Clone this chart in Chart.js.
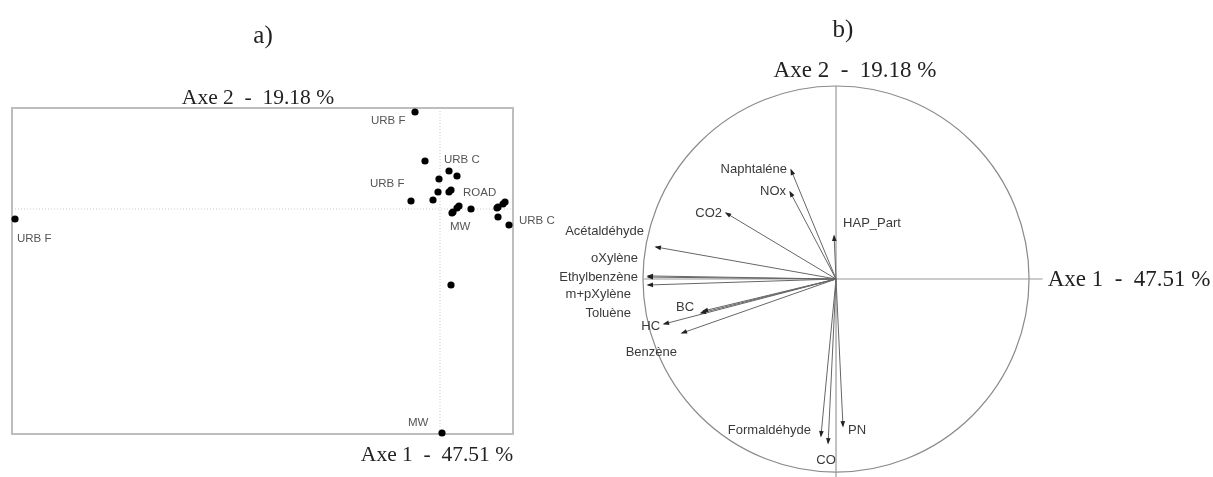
<!DOCTYPE html>
<html>
<head>
<meta charset="utf-8">
<script src="https://cdn.jsdelivr.net/npm/chart.js@4.4.1/dist/chart.umd.min.js"></script>
<style>
  body { margin: 0; background: #fff; width: 1213px; height: 477px; position: relative; overflow: hidden; }
  #wrapA { position: absolute; left: 0; top: 0; width: 560px; height: 477px; }
  #wrapB { position: absolute; left: 560px; top: 0; width: 653px; height: 477px; }
</style>
</head>
<body>
<div id="wrapA"><canvas id="scores"></canvas></div>
<div id="wrapB"><canvas id="circle"></canvas></div>
<script>
// a) individuals on the first factorial plane
const scoreX = [-0.25, -0.15, 0.09, 0.17, -0.01, -0.02, 0.09, 0.11, -0.29, -0.07, 0.19, 0.17, 0.13, 0.12, 0.31, 0.65, 0.63, 0.58, 0.57, 0.58, 0.69, -4.25, 0.11, 0.02];
const scoreY = [0.97, 0.48, 0.38, 0.33, 0.30, 0.17, 0.17, 0.19, 0.08, 0.09, 0.03, 0.01, -0.03, -0.04, 0.00, 0.07, 0.05, 0.02, 0.01, -0.08, -0.16, -0.10, -0.76, -2.24];

const groupNames = ['URB F', 'URB C', 'URB F', 'ROAD', 'MW', 'URB C', 'URB F', 'MW'];
const groupX = [-0.69, 0.04, -0.70, 0.23, 0.10, 0.79, -4.23, -0.32];
const groupY = [0.88, 0.49, 0.25, 0.16, -0.18, -0.12, -0.30, -2.14];

// b) correlation circle
const varNames = ['Naphtaléne', 'NOx', 'CO2', 'HAP_Part', 'Acétaldéhyde', 'oXylène', 'Ethylbenzène', 'm+pXylène', 'Toluène', 'BC', 'HC', 'Benzène', 'Formaldéhyde', 'CO', 'PN'];
const varX = [-0.233, -0.238, -0.570, -0.010, -0.933, -0.974, -0.974, -0.974, -0.689, -0.699, -0.891, -0.798, -0.078, -0.041, 0.036];
const varY = [0.565, 0.451, 0.342, 0.223, 0.166, 0.016, 0.010, -0.031, -0.166, -0.176, -0.233, -0.280, -0.813, -0.850, -0.762];

const axis1 = 'Axe 1  -  47.51 %';
const axis2 = 'Axe 2  -  19.18 %';

// label placement next to arrow tips (pixels): dx, dy, align
const varLabelPlace = [
  [-4, -1, 'right'], [-4, -1, 'right'], [-4, 0, 'right'], [9, -13, 'left'],
  [-12, -16, 'right'], [-10, -18, 'right'], [-10, 0, 'right'], [-17, 9, 'right'],
  [-72, 2, 'right'], [-7, -6, 'right'], [-4, 2, 'right'], [-5, 19, 'right'],
  [-10, -5, 'right'], [-2, 17, 'center'], [5, 4, 'left']
];

const sansFont = '"Liberation Sans", Arial, sans-serif';
const serifFont = '"Liberation Serif", "Times New Roman", serif';

const scoresDeco = {
  id: 'scoresDeco',
  beforeDatasetsDraw(chart) {
    const { ctx, chartArea: a, scales: { x, y } } = chart;
    ctx.save();
    // dotted axes
    ctx.strokeStyle = '#c8c8c8';
    ctx.lineWidth = 1;
    ctx.setLineDash([1, 2]);
    ctx.beginPath();
    ctx.moveTo(x.getPixelForValue(0), a.top);
    ctx.lineTo(x.getPixelForValue(0), a.bottom);
    ctx.moveTo(a.left, y.getPixelForValue(0));
    ctx.lineTo(a.right, y.getPixelForValue(0));
    ctx.stroke();
    ctx.setLineDash([]);
    // frame
    ctx.strokeStyle = '#bdbdbd';
    ctx.lineWidth = 2;
    ctx.strokeRect(a.left, a.top, a.right - a.left, a.bottom - a.top);
    ctx.restore();
  },
  afterDatasetsDraw(chart) {
    const { ctx, chartArea: a, scales: { x, y } } = chart;
    ctx.save();
    ctx.fillStyle = '#555';
    ctx.font = '11.5px ' + sansFont;
    ctx.textAlign = 'left';
    ctx.textBaseline = 'middle';
    groupNames.forEach((n, i) => {
      ctx.fillText(n, x.getPixelForValue(groupX[i]), y.getPixelForValue(groupY[i]));
    });
    ctx.fillStyle = '#222';
    ctx.font = '21.5px ' + serifFont;
    ctx.textAlign = 'center';
    ctx.fillText(axis2, 258, a.top - 10);
    ctx.fillText(axis1, 437, a.bottom + 21);
    ctx.font = '25px ' + serifFont;
    ctx.fillText('a)', 263, 36);
    ctx.restore();
  }
};

new Chart(document.getElementById('scores'), {
  type: 'scatter',
  data: {
    datasets: [{
      data: scoreX.map((v, i) => ({ x: v, y: scoreY[i] })),
      backgroundColor: '#000',
      borderWidth: 0,
      pointRadius: 3.6,
      clip: false
    }]
  },
  options: {
    responsive: true,
    maintainAspectRatio: false,
    animation: false,
    layout: { padding: { left: 12, top: 108, right: 47, bottom: 43 } },
    plugins: { legend: { display: false }, tooltip: { enabled: false } },
    scales: {
      x: { type: 'linear', min: -4.28, max: 0.73, display: false },
      y: { type: 'linear', min: -2.25, max: 1.01, display: false }
    }
  },
  plugins: [scoresDeco]
});

const circleDeco = {
  id: 'circleDeco',
  beforeDatasetsDraw(chart) {
    const { ctx, scales: { x, y } } = chart;
    const cx = x.getPixelForValue(0), cy = y.getPixelForValue(0);
    const r = x.getPixelForValue(1) - cx;
    ctx.save();
    ctx.strokeStyle = '#8a8a8a';
    ctx.lineWidth = 1.2;
    ctx.beginPath();
    ctx.arc(cx, cy, r, 0, Math.PI * 2);
    ctx.stroke();
    ctx.strokeStyle = '#9a9a9a';
    ctx.beginPath();
    ctx.moveTo(x.getPixelForValue(-1), cy);
    ctx.lineTo(x.getPixelForValue(1.07), cy);
    ctx.moveTo(cx, y.getPixelForValue(1));
    ctx.lineTo(cx, y.getPixelForValue(-1.03));
    ctx.stroke();
    ctx.restore();
  },
  afterDatasetsDraw(chart) {
    const { ctx, scales: { x, y } } = chart;
    const cx = x.getPixelForValue(0), cy = y.getPixelForValue(0);
    ctx.save();
    // arrow heads
    ctx.fillStyle = '#222';
    varNames.forEach((n, i) => {
      const tx = x.getPixelForValue(varX[i]), ty = y.getPixelForValue(varY[i]);
      const ang = Math.atan2(ty - cy, tx - cx);
      ctx.save();
      ctx.translate(tx, ty);
      ctx.rotate(ang);
      ctx.beginPath();
      ctx.moveTo(1.5, 0);
      ctx.lineTo(-5, -2.3);
      ctx.lineTo(-5, 2.3);
      ctx.closePath();
      ctx.fill();
      ctx.restore();
    });
    // variable names
    ctx.fillStyle = '#3a3a3a';
    ctx.font = '13px ' + sansFont;
    ctx.textBaseline = 'middle';
    varNames.forEach((n, i) => {
      const p = varLabelPlace[i];
      ctx.textAlign = p[2];
      ctx.fillText(n, x.getPixelForValue(varX[i]) + p[0], y.getPixelForValue(varY[i]) + p[1]);
    });
    // axis names and panel letter
    ctx.fillStyle = '#222';
    ctx.font = '23px ' + serifFont;
    ctx.textAlign = 'left';
    ctx.fillText(axis1, x.getPixelForValue(1.06) + 7, cy + 1);
    ctx.textAlign = 'center';
    ctx.fillText(axis2, cx + 19, 71);
    ctx.font = '25px ' + serifFont;
    ctx.fillText('b)', cx + 7, 30);
    ctx.restore();
  }
};

new Chart(document.getElementById('circle'), {
  type: 'scatter',
  data: {
    datasets: varNames.map((n, i) => ({
      label: n,
      data: [{ x: 0, y: 0 }, { x: varX[i], y: varY[i] }],
      showLine: true,
      borderColor: '#666',
      borderWidth: 1,
      pointRadius: 0
    }))
  },
  options: {
    responsive: true,
    maintainAspectRatio: false,
    animation: false,
    layout: { padding: 0 },
    plugins: { legend: { display: false }, tooltip: { enabled: false } },
    scales: {
      x: { type: 'linear', min: -1.430, max: 1.953, display: false },
      y: { type: 'linear', min: -1.026, max: 1.446, display: false }
    }
  },
  plugins: [circleDeco]
});
</script>
</body>
</html>
